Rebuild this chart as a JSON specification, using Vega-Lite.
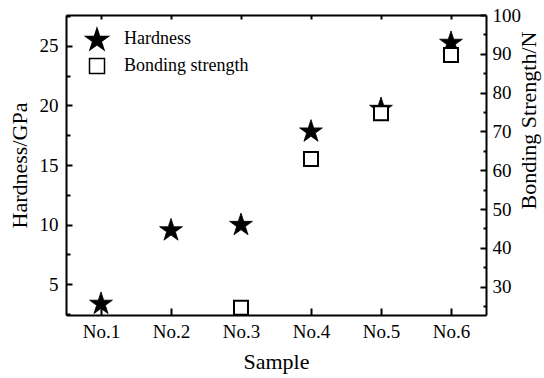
{
  "$schema": "https://vega.github.io/schema/vega-lite/v6.json",
  "width": 420,
  "height": 300,
  "autosize": {"type": "none"},
  "padding": {"left": 66, "top": 15, "right": 58, "bottom": 63},
  "background": "white",
  "config": {
    "font": "Liberation Serif",
    "view": {"stroke": null},
    "style": {
      "guide-label": {"font": "Liberation Serif", "fill": "black"},
      "guide-title": {"font": "Liberation Serif", "fill": "black"}
    },
    "axis": {
      "grid": false,
      "labelFont": "Liberation Serif",
      "titleFont": "Liberation Serif",
      "labelColor": "black",
      "titleColor": "black",
      "domainColor": "black",
      "tickColor": "black",
      "domainWidth": 2,
      "tickWidth": 2,
      "labelFontSize": 19,
      "titleFontSize": 22,
      "titleFontWeight": "normal"
    },
    "legend": {"labelFont": "Liberation Serif"}
  },
  "data": {
    "values": [
      {"sample": "No.1", "hardness": 3.43, "bonding": null},
      {"sample": "No.2", "hardness": 9.6, "bonding": null},
      {"sample": "No.3", "hardness": 10.05, "bonding": 24.6},
      {"sample": "No.4", "hardness": 17.9, "bonding": 62.9},
      {"sample": "No.5", "hardness": 19.8, "bonding": 74.7},
      {"sample": "No.6", "hardness": 25.35, "bonding": 89.7}
    ]
  },
  "layer": [
    {
      "mark": {"type": "point", "filled": true, "size": 240, "stroke": "black", "strokeWidth": 0.8, "opacity": 1},
      "encoding": {
        "x": {
          "field": "sample", "type": "nominal",
          "scale": {"type": "point", "padding": 0.5},
          "axis": {"orient": "bottom", "title": "Sample", "labelAngle": 0, "labelFont": "Liberation Serif", "tickSize": -7, "labelPadding": 14, "titlePadding": 10}
        },
        "y": {
          "field": "hardness", "type": "quantitative",
          "scale": {"domain": [2.4, 27.6], "nice": false, "zero": false},
          "axis": {
            "orient": "left", "title": "Hardness/GPa", "labelFont": "Liberation Serif",
            "values": [2.5, 5, 7.5, 10, 12.5, 15, 17.5, 20, 22.5, 25, 27.5],
            "labelExpr": "datum.value % 5 === 0 ? datum.label : ''",
            "tickSize": {"condition": {"test": "datum.value % 5 === 0", "value": -6}, "value": -4},
            "labelPadding": 14,
            "titlePadding": 8
          }
        },
        "shape": {
          "datum": "Hardness", "type": "nominal",
          "scale": {"domain": ["Hardness", "Bonding strength"], "range": ["M0,-1.402L0.348,-0.331L1.474,-0.331L0.563,0.331L0.911,1.402L0,0.74L-0.911,1.402L-0.563,0.331L-1.474,-0.331L-0.348,-0.331Z", "square"]},
          "legend": {"title": null, "orient": "none", "legendX": 22, "legendY": 15, "symbolSize": 225, "labelFontSize": 18, "labelColor": "black", "rowPadding": 2, "labelOffset": 18, "padding": 0,
            "encode": {"symbols": {"update": {"stroke": {"value": "black"}, "strokeWidth": {"value": 1.8}}}}}
        },
        "fill": {
          "datum": "Hardness", "type": "nominal",
          "scale": {"domain": ["Hardness", "Bonding strength"], "range": ["black", "white"]},
          "legend": {"title": null, "orient": "none", "legendX": 22, "legendY": 15, "symbolSize": 225, "labelFontSize": 18, "labelColor": "black", "rowPadding": 2, "labelOffset": 18, "padding": 0,
            "encode": {"symbols": {"update": {"stroke": {"value": "black"}, "strokeWidth": {"value": 1.8}}}}}
        }
      }
    },
    {
      "mark": {"type": "point", "filled": true, "size": 196, "stroke": "black", "strokeWidth": 2, "opacity": 1},
      "encoding": {
        "x": {
          "field": "sample", "type": "nominal",
          "scale": {"type": "point", "padding": 0.5},
          "axis": {"orient": "top", "title": null, "labels": false, "tickSize": -4}
        },
        "y": {
          "field": "bonding", "type": "quantitative",
          "scale": {"domain": [22.7, 100], "nice": false, "zero": false},
          "axis": {
            "orient": "right", "title": "Bonding Strength/N", "titleAngle": 270, "labelFont": "Liberation Serif",
            "titleY": 105, "titleAlign": "center",
            "values": [25, 30, 35, 40, 45, 50, 55, 60, 65, 70, 75, 80, 85, 90, 95, 100],
            "labelExpr": "datum.value % 10 === 0 ? datum.label : ''",
            "tickSize": {"condition": {"test": "datum.value % 10 === 0", "value": -6}, "value": -3},
            "labelPadding": 12,
            "titlePadding": 20
          }
        },
        "shape": {"datum": "Bonding strength", "type": "nominal"},
        "fill": {"datum": "Bonding strength", "type": "nominal"}
      }
    }
  ],
  "resolve": {"scale": {"y": "independent"}, "axis": {"x": "independent"}}
}
